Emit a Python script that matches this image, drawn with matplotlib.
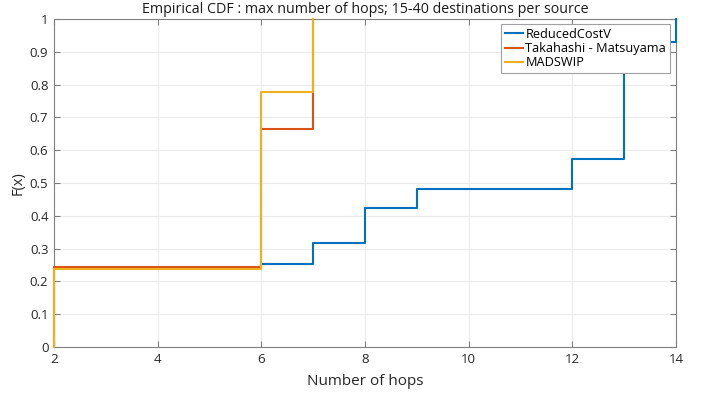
import matplotlib.pyplot as plt

# empirical CDF steps
hops_reduced = [6, 7, 8, 9, 12, 13, 14]
cdf_reduced = [0.252, 0.316, 0.424, 0.482, 0.573, 0.931, 1.0]

hops_takahashi = [2, 2, 6, 7]
cdf_takahashi = [0, 0.245, 0.665, 1.0]

hops_madswip = [2, 2, 6, 7]
cdf_madswip = [0, 0.238, 0.776, 1.0]

labels = ['ReducedCostV', 'Takahashi - Matsuyama', 'MADSWIP']
colors = ['#0072BD', '#D95319', '#EDB120']

plt.rcParams['font.family'] = ['Open Sans', 'DejaVu Sans']

fig = plt.figure(figsize=(7.02, 3.96), dpi=100)
ax = fig.add_axes([54 / 702, 1 - 347 / 396, 622 / 702, 328 / 396])

series = [(hops_reduced, cdf_reduced), (hops_takahashi, cdf_takahashi),
          (hops_madswip, cdf_madswip)]
for (x, y), lab, c in zip(series, labels, colors):
    ax.step(x, y, where='post', color=c, linewidth=1.5, label=lab,
            clip_on=False, zorder=3)

ax.set_xlim(2, 14)
ax.set_ylim(0, 1)
ax.set_xticks(range(2, 15, 2))
ax.set_yticks([i / 10 for i in range(11)])
ax.set_yticklabels(['0', '0.1', '0.2', '0.3', '0.4', '0.5', '0.6', '0.7',
                    '0.8', '0.9', '1'])
ax.grid(True, color='#ebebeb', linewidth=0.8)
ax.set_axisbelow(True)
for s in ax.spines.values():
    s.set_color('#808080')
    s.set_linewidth(0.8)
ax.tick_params(direction='in', length=4, color='#808080', labelsize=9.5,
               labelcolor='#262626', top=True, right=True, pad=4)

ax.set_title('Empirical CDF : max number of hops; 15-40 destinations per source',
             fontsize=10.3, color='#1a1a1a', pad=4)
ax.set_xlabel('Number of hops', fontsize=11, color='#262626', labelpad=6)
ax.set_ylabel('F(x)', fontsize=10.5, color='#262626', labelpad=3)

leg = ax.legend(loc='upper right', bbox_to_anchor=(0.9904, 0.985), fontsize=9.2,
                handlelength=1.4, handletextpad=0.2, borderpad=0.3,
                labelspacing=0.1, fancybox=False, framealpha=1,
                borderaxespad=0)
leg.get_frame().set_edgecolor('#a0a0a0')
leg.get_frame().set_linewidth(0.8)

fig.savefig('out.png', dpi=100)
